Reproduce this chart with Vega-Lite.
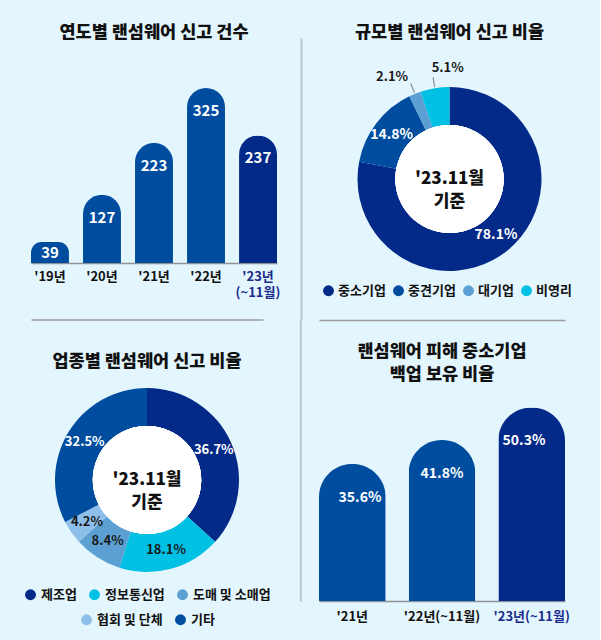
{
  "$schema": "https://vega.github.io/schema/vega-lite/v6.json",
  "background": "#E4F6FD",
  "padding": {"left": 24, "top": 23, "right": 20, "bottom": 14},
  "config": {
    "font": "Noto Sans CJK KR",
    "view": {"stroke": null},
    "title": {"fontSize": 17.5, "fontWeight": 900, "color": "#111111", "anchor": "middle", "frame": "group", "lineHeight": 23},
    "axis": {"ticks": false, "grid": false, "title": null},
    "legend": {
      "title": null, "labelFontSize": 13, "labelFontWeight": "bold", "labelColor": "#111111",
      "symbolType": "circle", "symbolSize": 120, "symbolStrokeWidth": 0,
      "labelOffset": 4, "columnPadding": 11, "direction": "horizontal",
      "layout": {"bottom": {"anchor": "middle", "direction": "vertical", "center": true, "margin": 11}}
    }
  },
  "datasets": {
    "yearly": [
      {"연도": "'19년", "건수": 39},
      {"연도": "'20년", "건수": 127},
      {"연도": "'21년", "건수": 223},
      {"연도": "'22년", "건수": 325},
      {"연도": "'23년 (~11월)", "건수": 237}
    ],
    "size": [
      {"규모": "중소기업", "비율": 78.1, "순서": 1},
      {"규모": "중견기업", "비율": 14.8, "순서": 2},
      {"규모": "대기업", "비율": 2.1, "순서": 3},
      {"규모": "비영리", "비율": 5.1, "순서": 4}
    ],
    "industry": [
      {"업종": "제조업", "비율": 36.7, "순서": 1},
      {"업종": "정보통신업", "비율": 18.1, "순서": 2},
      {"업종": "도매 및 소매업", "비율": 8.4, "순서": 3},
      {"업종": "협회 및 단체", "비율": 4.2, "순서": 4},
      {"업종": "기타", "비율": 32.5, "순서": 5}
    ],
    "backup": [
      {"연도": "'21년", "비율": 35.6},
      {"연도": "'22년(~11월)", "비율": 41.8},
      {"연도": "'23년(~11월)", "비율": 50.3}
    ]
  },
  "spacing": 20,
  "resolve": {
    "scale": {"color": "independent", "fill": "independent", "stroke": "independent", "theta": "independent"},
    "legend": {"color": "independent", "fill": "independent"}
  },
  "hconcat": [
    {
      "spacing": 20,
      "resolve": {
        "scale": {"color": "independent", "fill": "independent", "stroke": "independent", "theta": "independent"},
        "legend": {"color": "independent", "fill": "independent"}
      },
      "vconcat": [
        {
          "width": 246, "height": 225,
          "title": {"text": "연도별 랜섬웨어 신고 건수", "offset": -3},
          "data": {"name": "yearly"},
          "encoding": {
            "x": {
              "field": "연도", "type": "nominal",
              "sort": ["'19년", "'20년", "'21년", "'22년", "'23년 (~11월)"],
              "scale": {"paddingInner": 0.27, "paddingOuter": 0},
              "axis": {
                "labelAngle": 0, "labelFontSize": 13, "labelFontWeight": "bold", "labelPadding": 7,
                "labelLineHeight": 16, "labelExpr": "split(datum.label, ' ')",
                "labelColor": {"condition": {"test": "indexof(datum.value, \"'23\") >= 0", "value": "#1B2C8C"}, "value": "#111111"},
                "domainColor": "#8D9299", "domainWidth": 1.5
              }
            },
            "y": {"field": "건수", "type": "quantitative", "scale": {"domain": [0, 418], "nice": false}, "axis": null}
          },
          "layer": [
            {
              "mark": {"type": "bar", "cornerRadiusTopLeft": 19, "cornerRadiusTopRight": 19},
              "encoding": {"color": {"condition": {"test": "indexof(datum['연도'], \"'23\") >= 0", "value": "#032A88"}, "value": "#004DA0"}}
            },
            {
              "transform": [{"filter": "datum['건수'] >= 100"}],
              "mark": {"type": "text", "baseline": "middle", "dy": 23, "fontSize": 15, "fontWeight": "bold", "color": "#FFFFFF"},
              "encoding": {"text": {"field": "건수", "type": "quantitative"}}
            },
            {
              "transform": [{"filter": "datum['건수'] < 100"}],
              "mark": {"type": "text", "baseline": "middle", "dy": 11, "fontSize": 15, "fontWeight": "bold", "color": "#FFFFFF"},
              "encoding": {"text": {"field": "건수", "type": "quantitative"}}
            }
          ]
        },
        {
          "width": 232, "height": 190,
          "title": {"text": "업종별 랜섬웨어 신고 비율", "offset": -51},
          "data": {"name": "industry"},
          "layer": [
            {
              "transform": [
                {"stack": "비율", "groupby": [], "sort": [{"field": "순서"}], "as": ["시작", "끝"]},
                {"filter": "datum['순서'] <= 3"}
              ],
              "mark": {"type": "arc", "radius": 92, "radius2": 50},
              "encoding": {
                "theta": {"field": "시작", "type": "quantitative", "scale": {"domain": [0, 99.9]}},
                "theta2": {"field": "끝"},
                "color": {
                  "field": "업종", "type": "nominal",
                  "scale": {"domain": ["제조업", "정보통신업", "도매 및 소매업"], "range": ["#032A88", "#00C1E3", "#5B9FD3"]},
                  "legend": {"orient": "bottom", "offset": 13}
                }
              }
            },
            {
              "transform": [
                {"stack": "비율", "groupby": [], "sort": [{"field": "순서"}], "as": ["시작", "끝"]},
                {"filter": "datum['순서'] > 3"}
              ],
              "mark": {"type": "arc", "radius": 92, "radius2": 50},
              "encoding": {
                "theta": {"field": "시작", "type": "quantitative"},
                "theta2": {"field": "끝"},
                "fill": {
                  "field": "업종", "type": "nominal",
                  "scale": {"domain": ["협회 및 단체", "기타"], "range": ["#8EBEEA", "#004DA0"]},
                  "legend": {"orient": "bottom", "offset": 13}
                }
              }
            },
            {
              "mark": {"type": "arc", "radius": 54, "theta": 6.3, "fill": "#FFFFFF"},
              "encoding": {}
            },
            {
              "data": {"values": [{"기준": "'23.11월 기준"}]},
              "mark": {"type": "text", "fontSize": 17, "fontWeight": 900, "lineHeight": 23, "color": "#111111", "baseline": "middle"},
              "encoding": {
                "text": {"value": ["'23.11월", "기준"]},
                "x": {
                  "datum": 0, "type": "quantitative", "scale": {"domain": [-1, 1]},
                  "axis": {"orient": "top", "offset": 65.5, "labels": false, "domainColor": "#9B9B9B", "domainWidth": 1.5}
                }
              }
            },
            {
              "transform": [{"calculate": "format(datum['비율'], '.1f') + '%'", "as": "표시"}],
              "mark": {"type": "text", "radius": 73, "fontSize": 13, "fontWeight": "bold", "baseline": "middle"},
              "encoding": {
                "theta": {"field": "비율", "type": "quantitative", "stack": true},
                "order": {"field": "순서"},
                "text": {"field": "표시"},
                "color": {"condition": {"test": "datum['업종'] == '제조업' || datum['업종'] == '기타'", "value": "#FFFFFF"}, "value": "#1A1A1A"}
              }
            }
          ]
        }
      ]
    },
    {
      "spacing": 0,
      "resolve": {
        "scale": {"color": "independent", "fill": "independent", "stroke": "independent", "theta": "independent"},
        "legend": {"color": "independent", "fill": "independent"}
      },
      "vconcat": [
        {
          "width": 261, "height": 282,
          "title": {"text": "규모별 랜섬웨어 신고 비율", "offset": -3},
          "data": {"name": "size"},
          "transform": [{"calculate": "format(datum['비율'], '.1f') + '%'", "as": "표시"}],
          "layer": [
            {
              "mark": {"type": "arc", "radius": 92, "radius2": 50},
              "encoding": {
                "theta": {"field": "비율", "type": "quantitative", "stack": true},
                "order": {"field": "순서"},
                "color": {
                  "field": "규모", "type": "nominal",
                  "scale": {"domain": ["중소기업", "중견기업", "대기업", "비영리"], "range": ["#032A88", "#004DA0", "#5B9FD3", "#00C1E3"]},
                  "legend": {"orient": "none", "legendX": 3, "legendY": 246, "direction": "horizontal", "columnPadding": 6, "labelOffset": 3}
                }
              }
            },
            {
              "mark": {"type": "arc", "radius": 93, "radius2": 103, "padAngle": 1.5, "filled": false, "strokeWidth": 1.2},
              "encoding": {
                "theta": {"field": "비율", "type": "quantitative", "stack": true},
                "order": {"field": "순서"},
                "stroke": {"condition": {"test": "datum['규모'] == '대기업' || datum['규모'] == '비영리'", "value": "#8A8F96"}, "value": "transparent"}
              }
            },
            {
              "mark": {"type": "arc", "radius": 54, "theta": 6.3, "fill": "#FFFFFF"},
              "encoding": {}
            },
            {
              "data": {"values": [{"기준": "'23.11월 기준"}]},
              "transform": [],
              "mark": {"type": "text", "fontSize": 17, "fontWeight": 900, "lineHeight": 23, "color": "#111111", "baseline": "middle"},
              "encoding": {
                "text": {"value": ["'23.11월", "기준"]},
                "y": {
                  "datum": 0, "type": "quantitative", "scale": {"domain": [-1, 1]},
                  "axis": {"orient": "left", "offset": 18, "labels": false, "domainColor": "#B8C8D2", "domainWidth": 2}
                }
              }
            },
            {
              "mark": {"type": "text", "radius": 73, "fontSize": 14, "fontWeight": "bold", "baseline": "middle", "color": "#FFFFFF"},
              "encoding": {
                "theta": {"field": "비율", "type": "quantitative", "stack": true},
                "order": {"field": "순서"},
                "text": {"field": "표시", "type": "nominal", "condition": {"test": "datum['규모'] == '대기업' || datum['규모'] == '비영리'", "value": ""}}
              }
            },
            {
              "mark": {"type": "text", "radius": 110, "fontSize": 13, "fontWeight": "bold", "baseline": "middle", "align": "right", "color": "#1A1A1A"},
              "encoding": {
                "theta": {"field": "비율", "type": "quantitative", "stack": true},
                "order": {"field": "순서"},
                "text": {"field": "표시", "type": "nominal", "condition": {"test": "datum['규모'] != '대기업'", "value": ""}}
              }
            },
            {
              "mark": {"type": "text", "radius": 112, "fontSize": 13, "fontWeight": "bold", "baseline": "middle", "align": "left", "color": "#1A1A1A"},
              "encoding": {
                "theta": {"field": "비율", "type": "quantitative", "stack": true},
                "order": {"field": "순서"},
                "text": {"field": "표시", "type": "nominal", "condition": {"test": "datum['규모'] != '비영리'", "value": ""}}
              }
            }
          ]
        },
        {
          "width": 246, "height": 281,
          "title": {"text": ["랜섬웨어 피해 중소기업", "백업 보유 비율"], "offset": -63},
          "data": {"name": "backup"},
          "transform": [{"calculate": "format(datum['비율'], '.1f') + '%'", "as": "표시"}],
          "encoding": {
            "y": {
              "field": "비율", "type": "quantitative", "scale": {"domain": [0, 73], "nice": false},
              "axis": {"orient": "left", "offset": 18.7, "labels": false, "domainColor": "#B8C8D2", "domainWidth": 2}
            }
          },
          "layer": [
            {
              "mark": {"type": "bar", "cornerRadiusTopLeft": 33, "cornerRadiusTopRight": 33},
              "encoding": {
                "x": {
                  "field": "연도", "type": "nominal", "sort": ["'21년", "'22년(~11월)", "'23년(~11월)"],
                  "scale": {"paddingInner": 0.257, "paddingOuter": 0},
                  "axis": {
                    "orient": "bottom", "labelAngle": 0, "labelFontSize": 13, "labelFontWeight": "bold", "labelPadding": 9,
                    "labelColor": {"condition": {"test": "indexof(datum.value, \"'23\") >= 0", "value": "#1B2C8C"}, "value": "#111111"},
                    "domainColor": "#8D9299", "domainWidth": 1.5
                  }
                },
                "color": {"condition": {"test": "indexof(datum['연도'], \"'23\") >= 0", "value": "#032A88"}, "value": "#004DA0"}
              }
            },
            {
              "mark": {"type": "text", "baseline": "middle", "dy": 34, "fontSize": 14, "fontWeight": "bold", "color": "#FFFFFF"},
              "encoding": {
                "x": {
                  "field": "연도", "type": "nominal", "sort": ["'21년", "'22년(~11월)", "'23년(~11월)"],
                  "scale": {"paddingInner": 0.257, "paddingOuter": 0},
                  "axis": {"orient": "top", "labels": false, "domainColor": "#9B9B9B", "domainWidth": 1.5}
                },
                "text": {"field": "표시"}
              }
            }
          ],
          "resolve": {"scale": {"x": "independent"}, "axis": {"x": "independent"}}
        }
      ]
    }
  ]
}
